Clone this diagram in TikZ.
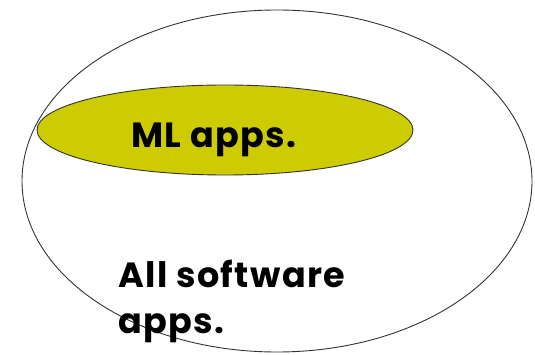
\documentclass[tikz,border=0pt]{standalone}
\usepackage{fontspec}
\setmainfont{Poppins}[LetterSpace=4]
\tikzset{
  outline/.style={draw=black!80, line width=0.9pt},
  lbl/.style={font=\fontsize{35}{46}\selectfont\bfseries, text=black, inner sep=0pt, anchor=base west, align=left},
}
\begin{document}
\begin{tikzpicture}[x=1pt,y=-1pt]
\useasboundingbox (0,0) rectangle (535,355);
\draw[outline] (277,181) ellipse [x radius=255, y radius=171];
\draw[outline, fill={rgb,255:red,204;green,204;blue,0}] (225,130) ellipse [x radius=188, y radius=45];
\node[lbl] (ml) at (131,148) {ML apps.};
\node[lbl] (all) at (118,333) {All software\\apps.};
\end{tikzpicture}
\end{document}
